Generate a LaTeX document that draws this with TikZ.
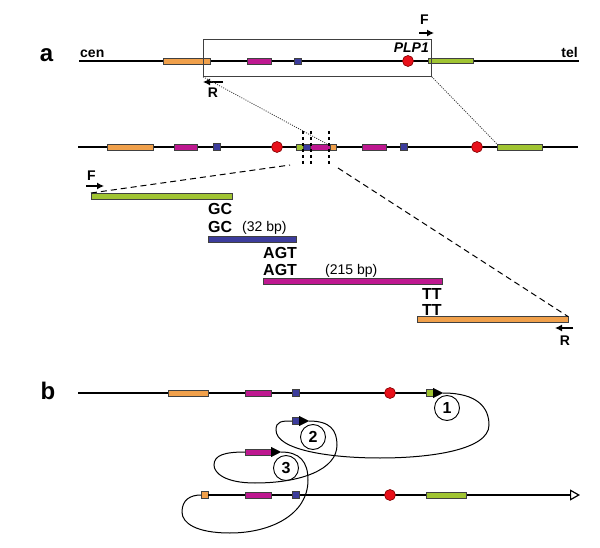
\documentclass[tikz,border=0pt]{standalone}
\usepackage{fontspec}
\setmainfont{Liberation Sans}
\usetikzlibrary{arrows.meta}
\definecolor{cOr}{HTML}{F0A04B}
\definecolor{cMg}{HTML}{BE1890}
\definecolor{cBl}{HTML}{3C3C9C}
\definecolor{cGr}{HTML}{A0C432}
\definecolor{cRd}{HTML}{E8101A}
\begin{document}
\begin{tikzpicture}[x=1pt,y=-1pt,
  bar/.style={draw=black!75, line width=0.8pt, inner sep=0pt, outer sep=0pt, minimum height=6pt, anchor=west},
  sq/.style={bar, minimum width=7pt, minimum height=7pt},
  redc/.style={circle, draw=red!50!black, line width=0.6pt, fill=cRd, minimum size=11pt, inner sep=0pt},
  backbone/.style={line width=1.8pt},
  lbl/.style={font=\bfseries\fontsize{14}{16}\selectfont, inner sep=0pt, anchor=base},
  big/.style={font=\bfseries\fontsize{24}{26}\selectfont, inner sep=0pt, anchor=base},
  seq/.style={font=\bfseries\fontsize{16}{18}\selectfont, inner sep=0pt, anchor=base west},
  bp/.style={font=\fontsize{14}{16}\selectfont, inner sep=0pt, anchor=base west},
  prim/.style={line width=1.2pt, -{Latex[length=7pt,width=7pt]}},
  zoomdot/.style={black!80, line width=0.8pt, dash pattern=on 1pt off 1.3pt},
  bigdash/.style={line width=1pt, dash pattern=on 6pt off 4pt},
  cut/.style={line width=2.8pt, dash pattern=on 3pt off 3pt},
  loopline/.style={line width=1pt},
  numc/.style={circle, draw, line width=0.9pt, fill=white, minimum size=25pt, inner sep=0pt, font=\bfseries\fontsize{16}{18}\selectfont},
  tip/.style={line width=0.4pt, -{Triangle[length=10pt,width=10pt]}}
]
\useasboundingbox[fill=white] (0,0) rectangle (600,548);

% ---------------- panel a ----------------
\node[big] (la) at (46.5,62) {a};
\node[lbl, anchor=base west] (cen) at (80,58) {cen};
\node[lbl, anchor=base east] (tel) at (578,58) {tel};

\coordinate (r1w) at (79,61);
\coordinate (r1e) at (579,61);
\draw[backbone] (r1w) -- (r1e);
\node[bar, fill=cOr, minimum width=47pt] (r1or) at (163,61) {};
\node[bar, fill=cMg, minimum width=24pt] (r1mg) at (247,61) {};
\node[sq, fill=cBl, minimum height=6pt] (r1bl) at (294,61) {};
\node[redc] (r1rd) at (408,61) {};
\node[bar, fill=cGr, minimum width=45pt, minimum height=5pt] (r1gr) at (428,61) {};

\node[draw=black!75, line width=0.8pt, minimum width=228pt, minimum height=37pt, inner sep=0pt, anchor=north west] (box) at (203,39) {};
\node[font=\bfseries\itshape\fontsize{14}{16}\selectfont, inner sep=0pt, anchor=base east] (plp) at (429,53) {PLP1};

\coordinate (fa1) at (419,33);
\coordinate (fa2) at (434,33);
\draw[prim] (fa1) -- (fa2);
\node[lbl] (fl1) at (424.5,25) {F};
\coordinate (ra1) at (223,82);
\coordinate (ra2) at (203,82);
\draw[prim] (ra1) -- (ra2);
\node[lbl] (rl1) at (213,98) {R};

% row 2
\coordinate (r2w) at (78,147);
\coordinate (r2e) at (578,147);
\draw[backbone] (r2w) -- (r2e);
\node[bar, fill=cOr, minimum width=46pt] (r2or) at (107,147) {};
\node[bar, fill=cMg, minimum width=23pt] (r2mg) at (174,147) {};
\node[sq, fill=cBl] (r2bl) at (213,147) {};
\node[redc] (r2rd) at (277,147) {};
\node[bar, fill=cGr, minimum width=7pt] (r2sg) at (296,147) {};
\node[bar, fill=cBl, minimum width=7pt] (r2sb) at (303,147) {};
\node[bar, fill=cMg, minimum width=20pt] (r2sm) at (310,147) {};
\node[bar, fill=cOr, minimum width=6pt] (r2so) at (330,147) {};
\node[bar, fill=cMg, minimum width=24pt] (r2mg2) at (362,147) {};
\node[sq, fill=cBl] (r2bl2) at (400,147) {};
\node[redc] (r2rd2) at (477,147) {};
\node[bar, fill=cGr, minimum width=45pt] (r2gr) at (497,147) {};

% zoom lines
\coordinate (zl) at (327,144);
\draw[zoomdot] (box.south west) -- (zl);
\draw[zoomdot] (box.south east) -- (r2gr.north west);

% cut marks
\foreach \x/\n in {303/c1,311/c2,329/c3} {
  \coordinate (\n t) at (\x,131);
  \coordinate (\n b) at (\x,164);
  \draw[cut] (\n t) -- (\n b);
}

% expanded fragments
\node[bar, fill=cGr, minimum width=141pt] (exg) at (91,196) {};
\node[bar, fill=cBl, minimum width=88pt] (exb) at (208,239.5) {};
\node[bar, fill=cMg, minimum width=179pt] (exm) at (263,281.5) {};
\node[bar, fill=cOr, minimum width=151pt] (exo) at (417,319.5) {};

\coordinate (dl) at (290,165);
\coordinate (dr) at (338,168);
\draw[bigdash] (exg.north west) -- (dl);
\draw[bigdash] (dr) -- (exo.north east);

\coordinate (fa3) at (86,186);
\coordinate (fa4) at (104,186);
\draw[prim] (fa3) -- (fa4);
\node[lbl] (fl2) at (91.5,181) {F};
\coordinate (ra3) at (573,328);
\coordinate (ra4) at (555,328);
\draw[prim] (ra3) -- (ra4);
\node[lbl] (rl2) at (565,345) {R};

\node[seq] (gc1) at (208,215) {GC};
\node[seq] (gc2) at (208,233) {GC};
\node[bp] (bp32) at (242,232) {(32 bp)};
\node[seq] (agt1) at (263,259) {AGT};
\node[seq] (agt2) at (263,276) {AGT};
\node[bp] (bp215) at (325,275) {(215 bp)};
\node[seq] (tt1) at (422,300) {TT};
\node[seq] (tt2) at (422,316) {TT};

% ---------------- panel b ----------------
\node[big] (lb) at (48,399) {b};

\coordinate (b1w) at (78,393);
\node[sq, fill=cGr] (b1gr) at (426,393) {};
\draw[backbone] (b1w) -- (b1gr.west);
\node[bar, fill=cOr, minimum width=40pt] (b1or) at (168,393) {};
\node[bar, fill=cMg, minimum width=26pt] (b1mg) at (245,393) {};
\node[sq, fill=cBl] (b1bl) at (292,393) {};
\node[redc] (b1rd) at (390,393) {};
\coordinate (t1) at (443,393);
\draw[tip] (b1gr.east) -- (t1);

\node[sq, fill=cBl] (b2bl) at (292,421) {};
\coordinate (t2) at (309,421);
\draw[tip] (b2bl.east) -- (t2);

\node[bar, fill=cMg, minimum width=26pt] (b3mg) at (245,452) {};
\coordinate (t3) at (281,452);
\draw[tip] (b3mg.east) -- (t3);

\node[sq, fill=cOr] (b4or) at (201,495) {};
\coordinate (b4e) at (580,495);
\draw[backbone, -{Triangle[open,length=10pt,width=11pt,line width=1.2pt]}] (b4or.east) -- (b4e);
\node[bar, fill=cMg, minimum width=26pt] (b4mg) at (245,495) {};
\node[sq, fill=cBl] (b4bl) at (292,495) {};
\node[redc] (b4rd) at (390,495) {};
\node[bar, fill=cGr, minimum width=40pt] (b4gr) at (426,495) {};

% loops
\draw[loopline] (t1) .. controls (478,393) and (489,408) .. (489,425)
  .. controls (489,450) and (430,458) .. (380,458)
  .. controls (330,458) and (276,450) .. (276,430)
  .. controls (276,421) and (282,421) .. (b2bl.west);
\draw[loopline] (t2) .. controls (330,421) and (337,430) .. (337,445)
  .. controls (337,470) and (300,483) .. (255,483)
  .. controls (225,483) and (214,473) .. (214,465)
  .. controls (214,455) and (225,452) .. (b3mg.west);
\draw[loopline] (t3) .. controls (300,452) and (308,462) .. (308,480)
  .. controls (308,515) and (270,533) .. (230,533)
  .. controls (196,533) and (182,523) .. (182,512)
  .. controls (182,500) and (190,495) .. (b4or.west);

\node[numc] (n1) at (447,408) {1};
\node[numc] (n2) at (313,437) {2};
\node[numc] (n3) at (286,468) {3};
\end{tikzpicture}
\end{document}
